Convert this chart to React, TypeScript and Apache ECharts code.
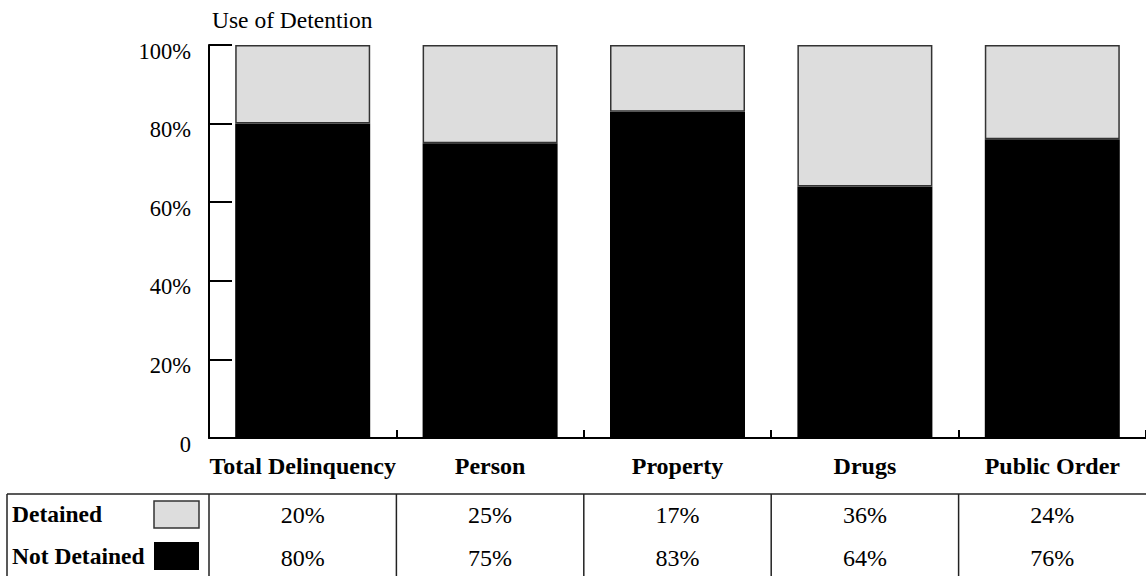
import React, { useEffect, useRef } from "react";
import * as echarts from "echarts";

const categories = ["Total Delinquency", "Person", "Property", "Drugs", "Public Order"];
const detained = [20, 25, 17, 36, 24];
const notDetained = [80, 75, 83, 64, 76];
const rowLabels = ["Detained", "Not Detained"];
const title = "Use of Detention";

const W = 1146;
const H = 576;
const GRID_LEFT = 209;
const GRID_TOP = 45;
const GRID_BOTTOM = 138;
const FONT = "'Liberation Serif', 'Times New Roman', serif";
const GRAY = "#dddddd";

export default function App() {
  const ref = useRef<HTMLDivElement>(null);

  useEffect(() => {
    if (!ref.current) return;
    const chart = echarts.init(ref.current, undefined, { renderer: "svg" });
    chart.setOption({
      animation: false,
      backgroundColor: "#ffffff",
      title: {
        text: title,
        left: 207,
        top: 3,
        textStyle: { fontFamily: FONT, fontSize: 23.5, fontWeight: "normal", color: "#000" },
      },
      grid: { left: GRID_LEFT, right: 0, top: GRID_TOP, bottom: GRID_BOTTOM, containLabel: false },
      xAxis: {
        type: "category",
        data: categories,
        axisLine: { lineStyle: { color: "#000", width: 2 } },
        axisTick: { show: true, interval: 0, inside: true, length: 8, lineStyle: { color: "#000", width: 2 } },
        axisLabel: {
          interval: 0,
          margin: 16,
          fontFamily: FONT,
          fontSize: 24,
          fontWeight: "bold",
          color: "#000",
        },
      },
      yAxis: {
        type: "value",
        min: 0,
        max: 100,
        interval: 20,
        splitLine: { show: false },
        axisLine: { show: true, lineStyle: { color: "#000", width: 2 } },
        axisTick: { show: true, inside: true, length: 23, lineStyle: { color: "#000", width: 2 } },
        axisLabel: {
          margin: 18,
          color: "#000",
          formatter: (v: number) => "{a|" + (v === 0 ? "0" : v + "%") + "}",
          rich: {
            a: { fontFamily: FONT, fontSize: 22.5, color: "#000", padding: [12, 0, 0, 0] },
          },
        },
      },
      series: [
        {
          name: "Not Detained",
          type: "bar",
          stack: "total",
          data: notDetained,
          barWidth: 135,
          itemStyle: { color: "#000" },
        },
        {
          name: "Detained",
          type: "bar",
          stack: "total",
          data: detained,
          barWidth: 135,
          itemStyle: { color: GRAY, borderColor: "#333", borderWidth: 1.5 },
        },
      ],
    });

    const centers = categories.map((c) => chart.convertToPixel({ xAxisIndex: 0 }, c) as number);
    const band = (W - GRID_LEFT) / categories.length;
    const tableTop = 494;
    const lineStyle = { stroke: "#222", lineWidth: 1.5 };
    const elements: any[] = [];
    elements.push({ type: "line", shape: { x1: 7, y1: tableTop, x2: W, y2: tableTop }, style: lineStyle });
    elements.push({ type: "line", shape: { x1: 7, y1: tableTop, x2: 7, y2: H }, style: lineStyle });
    centers.forEach((cx) => {
      const bx = cx - band / 2;
      elements.push({ type: "line", shape: { x1: bx, y1: tableTop, x2: bx, y2: H }, style: lineStyle });
    });
    const textBase = { fontFamily: FONT, fontSize: 24, fill: "#000", verticalAlign: "middle", align: "center" };
    centers.forEach((cx, i) => {
      elements.push({ type: "text", x: cx, y: 515, style: { ...textBase, text: detained[i] + "%" } });
      elements.push({ type: "text", x: cx, y: 558, style: { ...textBase, text: notDetained[i] + "%" } });
    });
    const labelBase = { ...textBase, fontSize: 23.5, align: "left", fontWeight: "bold" };
    elements.push({ type: "text", x: 12, y: 514, style: { ...labelBase, text: rowLabels[0] } });
    elements.push({ type: "text", x: 12, y: 556, style: { ...labelBase, text: rowLabels[1] } });
    elements.push({
      type: "rect",
      shape: { x: 154, y: 501, width: 45, height: 27 },
      style: { fill: GRAY, stroke: "#333", lineWidth: 1.5 },
    });
    elements.push({
      type: "rect",
      shape: { x: 154, y: 542, width: 45, height: 28 },
      style: { fill: "#000" },
    });
    chart.setOption({ graphic: elements });

    return () => chart.dispose();
  }, []);

  return (
    <div
      ref={ref}
      style={{ position: "absolute", left: 0, top: 0, width: W, height: H }}
    />
  );
}
